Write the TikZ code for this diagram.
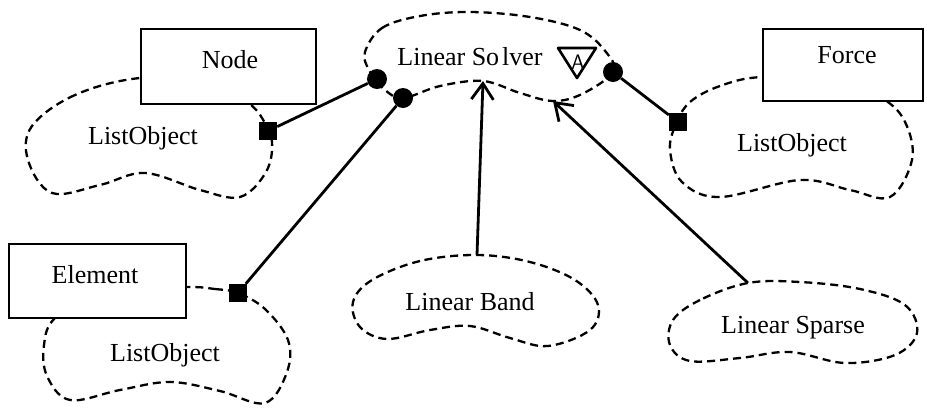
\documentclass[tikz,border=0pt]{standalone}
\usepackage{fontspec}
\setmainfont{Liberation Serif}
\usetikzlibrary{arrows.meta}
\begin{document}
\begin{tikzpicture}[x=1pt,y=-1pt,
  cloud/.style={draw,line width=2.3pt,dash pattern=on 8pt off 5pt},
  classbox/.style={draw,fill=white,line width=2.4pt,anchor=north west,inner sep=0pt},
  lbl/.style={font=\fontsize{26}{30}\selectfont},
  handle/.style={fill=black,minimum size=18pt,inner sep=0pt},
  joint/.style={circle,fill=black,minimum size=20pt,inner sep=0pt},
  assoc/.style={line width=2.8pt},
  inherit/.style={line width=2.8pt,-{Straight Barb[length=16pt,width=22pt,line width=2.8pt]}}]
\useasboundingbox (0,0) rectangle (927,408);

% dashed outlines of the objects
\draw[cloud] plot[smooth cycle,tension=0.6] coordinates {(140,78) (75,95) (32,126) (28,160) (52,193) (100,185) (145,173) (200,190) (240,197) (266,172) (272,142) (262,118) (250,104) (220,80)};
\draw[cloud] plot[smooth cycle,tension=0.6] coordinates {(365,52) (382,28) (420,16) (470,12) (530,17) (580,30) (606,52) (613,72) (582,94) (553,101) (520,93) (483,81) (440,86) (403,98) (384,89) (369,70)};
\draw[cloud] plot[smooth cycle,tension=0.6] coordinates {(762,77) (720,86) (690,102) (676,124) (670,150) (682,182) (720,197) (800,180) (850,190) (890,197) (912,160) (906,124) (885,100) (840,80)};
\draw[cloud] plot[smooth cycle,tension=0.6] coordinates {(185,287) (215,289) (238,293) (265,309) (288,340) (287,372) (265,403) (220,391) (170,382) (120,390) (70,400) (47,376) (44,345) (55,318) (100,290)};
\draw[cloud] plot[smooth cycle,tension=0.6] coordinates {(477,255) (420,261) (372,280) (353,302) (360,327) (387,339) (430,330) (470,326) (510,338) (548,346) (590,330) (598,305) (575,280) (530,262)};
\draw[cloud] plot[smooth cycle,tension=0.6] coordinates {(748,283) (700,300) (673,320) (670,345) (690,361) (740,358) (790,352) (845,363) (895,355) (917,333) (905,305) (860,289) (800,282)};

% class boxes
\node[classbox,minimum width=175pt,minimum height=75pt] (nodebox) at (140,28) {};
\node[lbl] (nodelbl) at (230,60) {Node};
\node[classbox,minimum width=160pt,minimum height=72pt] (forcebox) at (762,28) {};
\node[lbl] (forcelbl) at (847,55) {Force};
\node[classbox,minimum width=177pt,minimum height=74pt] (elembox) at (8,243) {};
\node[lbl] (elemlbl) at (95,275) {Element};

% object labels
\node[lbl] (listA) at (143,138) {ListObject};
\node[lbl] (listB) at (792,145) {ListObject};
\node[lbl] (listC) at (165,355) {ListObject};
\node[lbl] (solver) at (470,57) {Linear So\kern3pt lver};
\node[lbl] (band) at (470,302) {Linear Band};
\node[lbl] (sparse) at (793,328) {Linear Sparse};

% abstract marker
\draw[line width=2.6pt,line join=round] (558,48) -- (596,48) -- (577,78) -- cycle;
\node[font=\fontsize{21}{21}\selectfont\sffamily,inner sep=0pt] (abs) at (578,62) {A};

% handles and joints
\node[handle] (hN) at (268,131) {};
\node[handle] (hF) at (678,122) {};
\node[handle] (hE) at (238,293) {};
\node[joint] (j1) at (377,79) {};
\node[joint] (j2) at (403,98) {};
\node[joint] (j3) at (613,72) {};

\draw[assoc] (hN) -- (j1);
\draw[assoc] (hE) -- (j2);
\draw[assoc] (j3) -- (hF);

% generalisation arrows
\coordinate (bandtop) at (477,255);
\coordinate (sparsetop) at (748,283);
\coordinate (tipA) at (483,81);
\coordinate (tipB) at (553,101);
\draw[inherit] (bandtop) -- (tipA);
\draw[inherit] (sparsetop) -- (tipB);
\end{tikzpicture}
\end{document}
